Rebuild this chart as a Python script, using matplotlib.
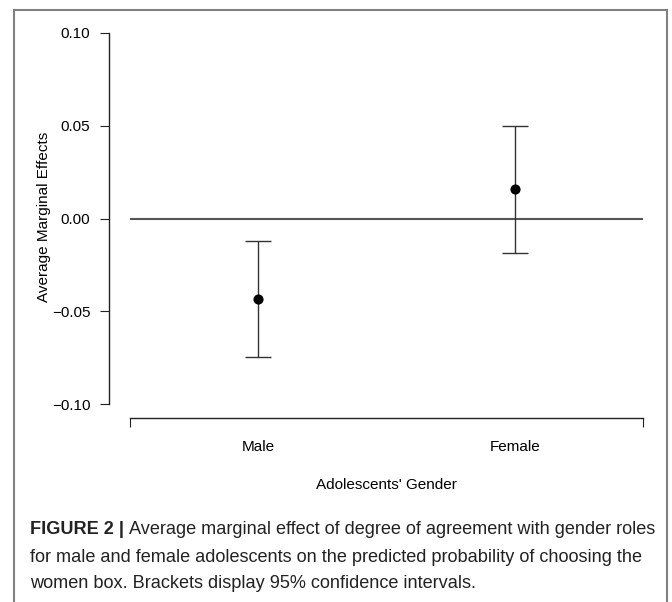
import numpy as np
import matplotlib.pyplot as plt
from matplotlib.lines import Line2D

# data
groups = ['Male', 'Female']
estimate = [-0.0432, 0.0157]
ci_low = [-0.0746, -0.0184]
ci_high = [-0.0119, 0.0497]
yticks = [-0.10, -0.05, 0.00, 0.05, 0.10]

caption_head = 'FIGURE 2 |'
caption_lines = ['Average marginal effect of degree of agreement with gender roles',
                 'for male and female adolescents on the predicted probability of choosing the',
                 'women box. Brackets display 95% confidence intervals.']

plt.rcParams['font.family'] = ['Liberation Sans', 'DejaVu Sans']

W, H = 672, 602
fig = plt.figure(figsize=(W / 100, H / 100), dpi=100)

def fx(px):
    return px / W

def fy(py):
    return 1 - py / H

# axes area: x 130..643, y 33..404
ax = fig.add_axes([fx(130), fy(404), fx(643) - fx(130), fy(33) - fy(404)])
ax.set_xlim(0.5, 2.5)
ax.set_ylim(-0.1, 0.1)

x = np.arange(1, len(groups) + 1)
est = np.array(estimate)
err = [est - np.array(ci_low), np.array(ci_high) - est]

ax.axhline(0, color='#555555', lw=1.5, zorder=1)
ax.errorbar(x, est, yerr=err, fmt='o', color='black', ms=6.3,
            ecolor='#333333', elinewidth=1, capsize=9.4, capthick=1, zorder=3)

for s in ['top', 'right']:
    ax.spines[s].set_visible(False)
ax.spines['left'].set_position(('outward', 15.1))
ax.spines['left'].set_bounds(-0.1, 0.1)
ax.spines['bottom'].set_position(('outward', 10.1))
ax.spines['bottom'].set_bounds(0.5, 2.5)
for s in ['left', 'bottom']:
    ax.spines[s].set_linewidth(1)
    ax.spines[s].set_color('#222222')

ax.set_yticks(yticks)
ax.set_yticklabels(['%.2f' % v if v >= 0 else '\u22120.%02d' % round(abs(v) * 100) for v in yticks])
ax.tick_params(axis='y', length=6.5, width=0.8, pad=7, labelsize=11, color='#222222')

ax.set_xticks([0.5, 2.5])
ax.set_xticklabels(['', ''])
ax.set_xticks(x, minor=True)
ax.set_xticklabels(groups, minor=True)
ax.tick_params(axis='x', which='major', length=6.5, width=0.8, color='#222222')
ax.tick_params(axis='x', which='minor', length=0, pad=16, labelsize=11)

fig.text(fx(386.5), fy(485), "Adolescents' Gender", ha='center', va='center', fontsize=11)
fig.text(fx(44), fy(217), 'Average Marginal Effects', ha='center', va='center',
         rotation=90, fontsize=11)

# frame around the figure panel
fc = '#808080'
fig.add_artist(Line2D([fx(14), fx(14)], [fy(10), 0], color=fc, lw=1.5))
fig.add_artist(Line2D([fx(14), fx(667)], [fy(10), fy(10)], color=fc, lw=1.5))
fig.add_artist(Line2D([fx(667), fx(667)], [fy(10), 0], color=fc, lw=1.5))

# caption
cap_size = 13.1
line_y = [529, 557, 584]
head = fig.text(fx(30), fy(line_y[0]), caption_head, fontsize=cap_size,
                fontweight='bold', va='center', ha='left', color='#222222')
fig.canvas.draw()
bb = head.get_window_extent()
fig.text(bb.x1 / W + fx(5), fy(line_y[0]), caption_lines[0], fontsize=cap_size,
         va='center', ha='left', color='#222222')
for txt, yy in zip(caption_lines[1:], line_y[1:]):
    fig.text(fx(30), fy(yy), txt, fontsize=cap_size, va='center', ha='left', color='#222222')

fig.savefig('out.png', dpi=100)
